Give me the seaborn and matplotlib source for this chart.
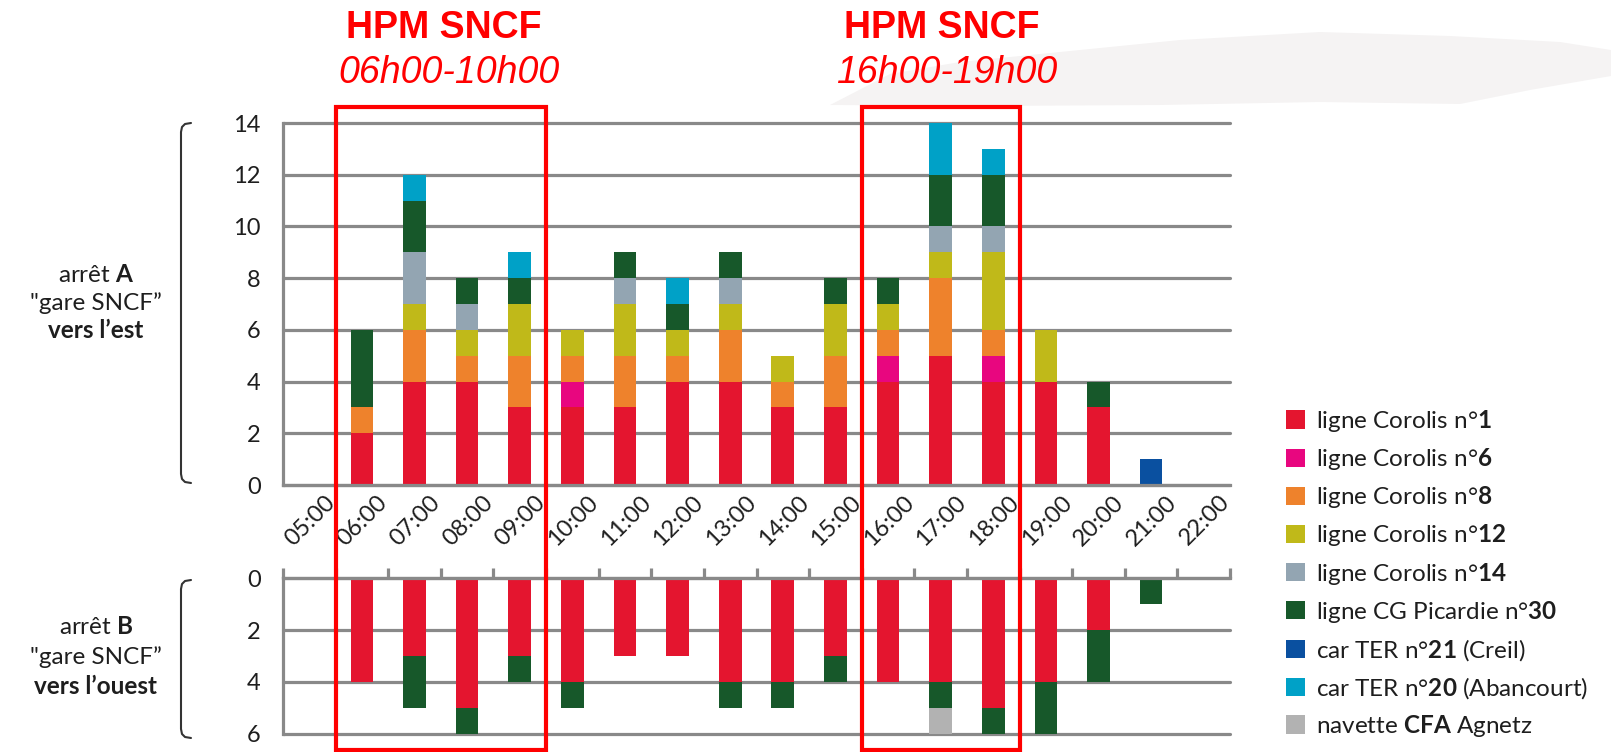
import numpy as np
import seaborn as sns
import matplotlib.pyplot as plt
from matplotlib.patches import Patch, Rectangle, Polygon
from matplotlib.lines import Line2D
from matplotlib.transforms import blended_transform_factory, ScaledTranslation

hours = ['05:00', '06:00', '07:00', '08:00', '09:00', '10:00', '11:00', '12:00', '13:00',
         '14:00', '15:00', '16:00', '17:00', '18:00', '19:00', '20:00', '21:00', '22:00']

series_labels = [r'ligne Corolis n°$\mathbf{1}$',
                 r'ligne Corolis n°$\mathbf{6}$',
                 r'ligne Corolis n°$\mathbf{8}$',
                 r'ligne Corolis n°$\mathbf{12}$',
                 r'ligne Corolis n°$\mathbf{14}$',
                 r'ligne CG Picardie n°$\mathbf{30}$',
                 r'car TER n°$\mathbf{21}$ (Creil)',
                 r'car TER n°$\mathbf{20}$ (Abancourt)',
                 r'navette $\mathbf{CFA}$ Agnetz']
colors = ['#e4152f', '#e8067f', '#ee822c', '#c0b919', '#93a5b2',
          '#17582a', '#0a50a0', '#00a1c7', '#b2b2b2']

# arrêt A, vers l'est (departures per hour)
a_c1 = [0, 2, 4, 4, 3, 3, 3, 4, 4, 3, 3, 4, 5, 4, 4, 3, 0, 0]
a_c6 = [0, 0, 0, 0, 0, 1, 0, 0, 0, 0, 0, 1, 0, 1, 0, 0, 0, 0]
a_c8 = [0, 1, 2, 1, 2, 1, 2, 1, 2, 1, 2, 1, 3, 1, 0, 0, 0, 0]
a_c12 = [0, 0, 1, 1, 2, 1, 2, 1, 1, 1, 2, 1, 1, 3, 2, 0, 0, 0]
a_c14 = [0, 0, 2, 1, 0, 0, 1, 0, 1, 0, 0, 0, 1, 1, 0, 0, 0, 0]
a_cg30 = [0, 3, 2, 1, 1, 0, 1, 1, 1, 0, 1, 1, 2, 2, 0, 1, 0, 0]
a_ter21 = [0, 0, 0, 0, 0, 0, 0, 0, 0, 0, 0, 0, 0, 0, 0, 0, 1, 0]
a_ter20 = [0, 0, 1, 0, 1, 0, 0, 1, 0, 0, 0, 0, 2, 1, 0, 0, 0, 0]
a_cfa = [0] * 18

# arrêt B, vers l'ouest
b_c1 = [0, 4, 3, 5, 3, 4, 3, 3, 4, 4, 3, 4, 4, 5, 4, 2, 0, 0]
b_c6 = [0] * 18
b_c8 = [0] * 18
b_c12 = [0] * 18
b_c14 = [0] * 18
b_cg30 = [0, 0, 2, 1, 1, 1, 0, 0, 1, 1, 1, 0, 1, 1, 2, 2, 1, 0]
b_ter21 = [0] * 18
b_ter20 = [0] * 18
b_cfa = [0, 0, 0, 0, 0, 0, 0, 0, 0, 0, 0, 0, 1, 0, 0, 0, 0, 0]

W, H = 1611, 752
grid_col = '#898989'
txt_col = '#1e1e1e'

sns.set_style('white')
plt.rcParams['font.family'] = ['Lato', 'DejaVu Sans']
plt.rcParams['mathtext.fontset'] = 'custom'
plt.rcParams['mathtext.rm'] = 'Lato'
plt.rcParams['mathtext.it'] = 'Lato:italic'
plt.rcParams['mathtext.bf'] = 'Lato:bold'

fig = plt.figure(figsize=(W / 100, H / 100), dpi=100)

def fx(x):
    return x / W

def fy(y):
    return 1 - y / H

ax_a = fig.add_axes([fx(283), fy(485), (1230 - 283) / W, (485 - 123) / H])
ax_b = fig.add_axes([fx(283), fy(733.6), (1230 - 283) / W, (733.6 - 578.4) / H])


def stacked(ax, layers):
    cum = np.cumsum(np.array(layers, dtype=float), axis=0)
    for i in range(len(layers) - 1, -1, -1):
        sns.barplot(x=hours, y=cum[i], order=hours, color=colors[i], width=0.43,
                    saturation=1, linewidth=0, errorbar=None, ax=ax)


stacked(ax_a, [a_c1, a_c6, a_c8, a_c12, a_c14, a_cg30, a_ter21, a_ter20, a_cfa])
stacked(ax_b, [b_c1, b_c6, b_c8, b_c12, b_c14, b_cg30, b_ter21, b_ter20, b_cfa])

for ax in (ax_a, ax_b):
    ax.set_xlabel('')
    ax.set_ylabel('')
    ax.set_xlim(-0.5, 17.5)
    ax.set_axisbelow(True)
    ax.grid(axis='y', color=grid_col, lw=2.3)
    ax.grid(axis='x', visible=False)
    for s in ax.spines.values():
        s.set_visible(False)
    ax.spines['left'].set_visible(True)
    ax.spines['left'].set_color(grid_col)
    ax.spines['left'].set_linewidth(2.3)
    ax.set_xticks(range(len(hours)))
    ax.set_xticks(np.arange(-0.5, len(hours), 1), minor=True)
    ax.tick_params(axis='y', length=10, width=2.3, color=grid_col, pad=6,
                   labelsize=17, labelcolor=txt_col)
    ax.tick_params(axis='x', which='major', length=0)
    ax.tick_params(axis='x', which='minor', length=7, width=2.3, color=grid_col)

ax_a.set_ylim(0, 14)
ax_a.set_yticks(range(0, 15, 2))
ax_a.spines['bottom'].set_visible(True)
ax_a.spines['bottom'].set_color(grid_col)
ax_a.spines['bottom'].set_linewidth(2.3)
ax_a.set_xticklabels(hours)
ax_a.tick_params(axis='x', which='major', pad=0, labelsize=17, labelcolor=txt_col)
shift = ScaledTranslation(16 / 72, -10 / 72, fig.dpi_scale_trans)
for lbl in ax_a.get_xticklabels():
    lbl.set_rotation(45)
    lbl.set_ha('right')
    lbl.set_va('center')
    lbl.set_rotation_mode('anchor')
    lbl.set_transform(lbl.get_transform() + shift)

ax_b.set_ylim(6, 0)
ax_b.set_yticks(range(0, 7, 2))
ax_b.spines['top'].set_visible(True)
ax_b.spines['top'].set_color(grid_col)
ax_b.spines['top'].set_linewidth(2.3)
ax_b.xaxis.set_ticks_position('top')
ax_b.tick_params(axis='x', which='both', labeltop=False, labelbottom=False)

for ax in (ax_a, ax_b):
    for gl in ax.get_ygridlines():
        gl.set_clip_on(False)

# light brush texture behind the second title
tex = [(830, 105), (890, 74), (960, 62), (1060, 52), (1180, 40), (1320, 32), (1450, 36),
       (1560, 42), (1611, 50), (1611, 76), (1530, 90), (1460, 104), (1320, 102),
       (1160, 105), (980, 106)]
fig.add_artist(Polygon([(fx(x), fy(y)) for x, y in tex], closed=True,
                       facecolor='#f5f3f3', edgecolor='none', zorder=0,
                       transform=fig.transFigure))

# peak hour boxes
btr = blended_transform_factory(ax_a.transData, fig.transFigure)
for x0, x1 in [(0.5, 4.5), (10.5, 13.5)]:
    fig.add_artist(Rectangle((x0, fy(750)), x1 - x0, fy(107) - fy(750), transform=btr,
                             fill=False, edgecolor='#ff0000', lw=3, clip_on=False, zorder=5))

title_fam = ['Liberation Sans Narrow', 'Liberation Sans']
for cx, sub in [(444, '06h00-10h00'), (942, '16h00-19h00')]:
    fig.text(fx(cx), fy(28), 'HPM SNCF', color='#ff0000', fontsize=27, fontweight='bold',
             ha='center', va='center', family=title_fam)
    fig.text(fx(cx + 5), fy(73), sub, color='#ff0000', fontsize=27, style='italic',
             ha='center', va='center', family=title_fam)

# stop labels
for ys, stop, way in [((275, 303, 331), 'A', 'vers l’est'), ((627, 657, 686), 'B', 'vers l’ouest')]:
    fig.text(fx(96), fy(ys[0]), 'arrêt $\\mathbf{' + stop + '}$', fontsize=17.5, color=txt_col,
             ha='center', va='center')
    fig.text(fx(96), fy(ys[1]), '"gare SNCF”', fontsize=17.5, color=txt_col, ha='center', va='center')
    fig.text(fx(96), fy(ys[2]), way, fontsize=17.5, fontweight='bold', color=txt_col,
             ha='center', va='center')

for t, b in [(123, 483), (580, 738)]:
    pts = [(191, t), (185, t + 1), (182, t + 4), (181, t + 9), (181, b - 9), (182, b - 4),
           (185, b - 1), (191, b)]
    fig.add_artist(Line2D([fx(p[0]) for p in pts], [fy(p[1]) for p in pts], color='#333333',
                          lw=1.5, transform=fig.transFigure))

handles = [Patch(facecolor=c, edgecolor='none') for c in colors]
fig.legend(handles, series_labels, loc='upper left', bbox_to_anchor=(fx(1286), fy(408)),
           bbox_transform=fig.transFigure, frameon=False, borderpad=0, borderaxespad=0,
           handlelength=0.78, handleheight=0.78, handletextpad=0.45, labelspacing=0.5,
           fontsize=17.5, labelcolor=txt_col)

fig.savefig('out.png', dpi=100, facecolor='white')
